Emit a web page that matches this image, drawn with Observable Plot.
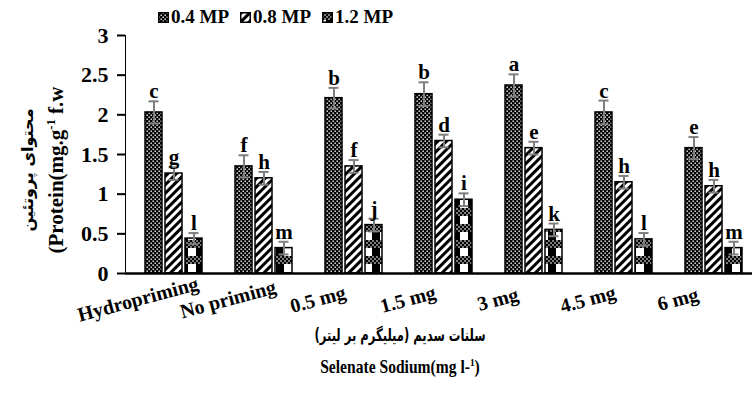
<!DOCTYPE html>
<html>
<head>
<meta charset="utf-8">
<script src="https://cdn.jsdelivr.net/npm/d3@7"></script>
<script src="https://cdn.jsdelivr.net/npm/@observablehq/plot@0.6"></script>
<style>
  body { margin: 0; background: #fff; }
  #wrap { position: relative; width: 752px; height: 400px; overflow: hidden; font-family: "Liberation Serif", "Times New Roman", serif; font-weight: bold; color: #000; }
  #chart { position: absolute; left: 0; top: 0; }
  .legend { position: absolute; left: 158px; top: 6px; font-size: 19px; white-space: nowrap; display: flex; gap: 11px; align-items: center; }
  .legend span.item { display: inline-flex; align-items: center; gap: 2px; }
  .ylab { position: absolute; left: 42px; top: 170px; transform: translate(-50%, -50%) rotate(-90deg); text-align: center; white-space: nowrap; line-height: 28px; }
  .ylab .fa { font-family: "DejaVu Sans", sans-serif; font-size: 16px; }
  .ylab .en { font-size: 21px; }
  .xlab { position: absolute; left: 0; width: 800px; text-align: center; white-space: nowrap; line-height: 22px; transform-origin: 400px 0; }
  .xlab.fa { top: 324px; font-family: "DejaVu Sans", sans-serif; font-size: 17px; transform: scaleX(0.68); }
  .xlab.en { top: 356px; font-size: 19px; transform: scaleX(0.82); }
  sup { font-size: 0.6em; vertical-align: 0.6em; line-height: 0; }
</style>
</head>
<body>
<div id="wrap">
  <div id="chart"></div>
  <div class="legend" id="legend"></div>
  <div class="ylab"><div class="fa">محتوای پروتئین</div><div class="en">(Protein(mg.g<sup>-1</sup> f.w</div></div>
  <div class="xlab fa">سلنات سدیم (میلیگرم بر لیتر)</div>
  <div class="xlab en">Selenate Sodium(mg l-<sup>1</sup>)</div>
</div>
<script>
const groups = ["Hydropriming", "No priming", "0.5 mg", "1.5 mg", "3 mg", "4.5 mg", "6 mg"];
const seriesNames = ["0.4 MP", "0.8 MP", "1.2 MP"];
const mp04 = [2.03, 1.35, 2.21, 2.26, 2.37, 2.03, 1.58];
const mp08 = [1.26, 1.20, 1.35, 1.67, 1.58, 1.15, 1.10];
const mp12 = [0.44, 0.32, 0.61, 0.93, 0.55, 0.43, 0.32];
const err04 = [0.14, 0.14, 0.13, 0.15, 0.14, 0.15, 0.14];
const err08 = [0.08, 0.08, 0.08, 0.08, 0.08, 0.08, 0.08];
const err12 = [0.07, 0.08, 0.08, 0.08, 0.08, 0.08, 0.08];
const let04 = ["c", "f", "b", "b", "a", "c", "e"];
const let08 = ["g", "h", "f", "d", "e", "h", "h"];
const let12 = ["l", "m", "j", "i", "k", "l", "m"];
const yTicks = [0, 0.5, 1, 1.5, 2, 2.5, 3];

const values = [mp04, mp08, mp12];
const errors = [err04, err08, err12];
const letters = [let04, let08, let12];
const patterns = ["url(#p04)", "url(#p08)", "url(#p12)"];

const bw = 57, barW = 17, gap = 20;
const marks = [];
seriesNames.forEach((s, i) => {
  const data = groups.map((g, j) => ({group: g, series: s, v: values[i][j], e: errors[i][j], t: letters[i][j]}));
  const left = i * gap, right = bw - barW - i * gap;
  const cx = left + barW / 2 - bw / 2;
  marks.push(Plot.barY(data, {x: "group", y: "v", fill: patterns[i], stroke: "#000", strokeWidth: 1.5, insetLeft: left, insetRight: right}));
  marks.push(Plot.ruleX(data, {x: "group", y1: d => d.v - d.e, y2: d => d.v + d.e, dx: cx, stroke: "#7f7f7f", strokeWidth: 2}));
  marks.push(Plot.tickY(data, {x: "group", y: d => d.v + d.e, stroke: "#7f7f7f", strokeWidth: 2, insetLeft: left + barW / 2 - 5, insetRight: right + barW / 2 - 5}));
  marks.push(Plot.tickY(data, {x: "group", y: d => d.v - d.e, stroke: "#7f7f7f", strokeWidth: 2, insetLeft: left + barW / 2 - 5, insetRight: right + barW / 2 - 5}));
  marks.push(Plot.text(data, {x: "group", y: d => d.v + d.e, text: "t", dx: cx, dy: -3, lineAnchor: "bottom", fontSize: 21, fontWeight: "bold", fill: "#000"}));
});
marks.push(Plot.ruleY([0], {stroke: "#000", strokeWidth: 2.5}));
// category labels (x axis tick labels), rotated like the reference
marks.push(Plot.text(groups, {x: d => d, text: d => d, frameAnchor: "bottom", dy: 26, dx: -36, rotate: -15, textAnchor: "middle", lineAnchor: "middle", fontSize: 20, fontWeight: "bold", fill: "#000"}));

const plot = Plot.plot({
  width: 752,
  height: 400,
  marginTop: 35,
  marginBottom: 127,
  marginLeft: 125,
  marginRight: 0,
  style: {fontFamily: "'Liberation Serif', 'Times New Roman', serif", fontWeight: "bold", fontSize: "19px", color: "#000", background: "#fff", overflow: "visible"},
  x: {domain: groups, range: [125.7, 760.4], paddingInner: 0.37, paddingOuter: 0.185, axis: null},
  y: {domain: [0, 3], ticks: yTicks, tickFormat: d => String(d), tickSize: 8, tickPadding: 9, line: true, label: null},
  marks
});
document.getElementById("chart").appendChild(plot);

// pattern definitions
const svg = d3.select(plot);
const defs = svg.insert("defs", ":first-child");
const p04 = defs.append("pattern").attr("id", "p04").attr("patternUnits", "userSpaceOnUse").attr("width", 4).attr("height", 4);
p04.append("rect").attr("width", 4).attr("height", 4).attr("fill", "#000");
p04.append("rect").attr("x", 0.5).attr("y", 0.5).attr("width", 1.4).attr("height", 1.4).attr("fill", "#fff");
p04.append("rect").attr("x", 2.5).attr("y", 2.5).attr("width", 1.4).attr("height", 1.4).attr("fill", "#fff");
const p08 = defs.append("pattern").attr("id", "p08").attr("patternUnits", "userSpaceOnUse").attr("width", 6).attr("height", 6).attr("patternTransform", "rotate(45)");
p08.append("rect").attr("width", 6).attr("height", 6).attr("fill", "#fff");
p08.append("rect").attr("width", 3).attr("height", 6).attr("fill", "#000");
const p12 = defs.append("pattern").attr("id", "p12").attr("patternUnits", "userSpaceOnUse").attr("width", 16).attr("height", 16);
p12.append("rect").attr("width", 16).attr("height", 8).attr("fill", "#000");
for (let yy = 0; yy < 8; yy += 2) for (let xx = 0; xx < 16; xx += 2) {
  if (((xx + yy) / 2) % 2 === 0) p12.append("rect").attr("x", xx + 0.3).attr("y", yy + 0.3).attr("width", 1.4).attr("height", 1.4).attr("fill", "#fff");
}
p12.append("rect").attr("x", 0).attr("y", 8).attr("width", 16).attr("height", 8).attr("fill", "#fff");
p12.append("rect").attr("x", 4).attr("y", 8).attr("width", 8).attr("height", 8).attr("fill", "#000");

// y-axis text size (matched by content)
const yTickStrings = yTicks.map(String);
svg.selectAll("text").each(function() {
  if (yTickStrings.includes(this.textContent)) { this.setAttribute("font-size", "22"); this.style.fontSize = "22px"; }
});
svg.selectAll("path, line").each(function() {
  const p = this.parentNode;
  if (p && p.getAttribute && (p.getAttribute("aria-label") || "").startsWith("y-axis")) this.style.strokeWidth = "2";
});

// legend
const legend = document.getElementById("legend");
seriesNames.forEach((s, i) => {
  const item = document.createElement("span");
  item.className = "item";
  item.innerHTML = `<svg width="11" height="11"><rect x="0.75" y="0.75" width="9.5" height="9.5" fill="${patterns[i]}" stroke="#000" stroke-width="1.5"/></svg><span>${s}</span>`;
  legend.appendChild(item);
});
</script>
</body>
</html>
